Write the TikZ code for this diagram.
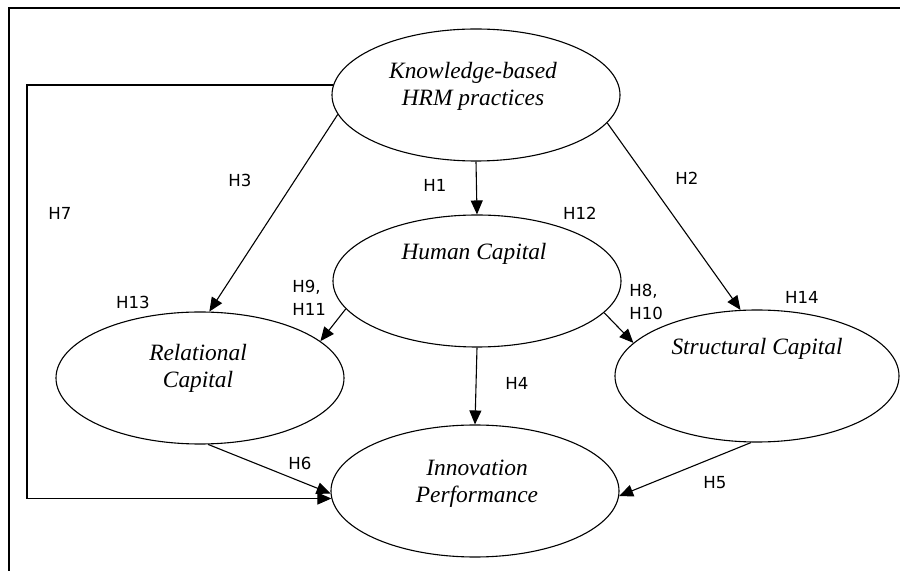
\documentclass[tikz,border=0pt]{standalone}
\usepackage{fontspec}
\setmainfont{Liberation Serif}
\newfontfamily\hfont{DejaVu Sans}
\usetikzlibrary{shapes.geometric,arrows.meta,calc}
\begin{document}
\begin{tikzpicture}[x=0.5pt,y=-0.5pt,
  ell/.style={draw,ellipse,line width=0.55pt,inner sep=0pt,minimum width=144pt,minimum height=66pt},
  etext/.style={font=\fontsize{11.7}{13.5}\selectfont\itshape,align=center,inner sep=0pt},
  hlab/.style={font=\hfont\fontsize{8.3}{11.5}\selectfont,inner sep=0pt},
  arr/.style={line width=0.55pt,-{Triangle[length=7pt,width=6pt]}}]
\useasboundingbox (0,0) rectangle (900,571);
% frame
\draw[line width=1pt] (9,571) -- (9,8) -- (900,8);
% ellipses
\node[ell] (kb) at (476,95) {};
\node[ell] (hc) at (477,281) {};
\node[ell] (rc) at (200,378) {};
\node[ell,minimum width=142pt] (sc) at (757,376) {};
\node[ell] (ip) at (475,491) {};
% texts
\node[etext] (kbt) at (473,86) {Knowledge-based\\HRM practices};
\node[etext] (hct) at (474,254) {Human Capital};
\node[etext] (rct) at (198,368) {Relational\\Capital};
\node[etext] (sct) at (757,349) {Structural Capital};
\node[etext] (ipt) at (477,484) {Innovation\\Performance};
% connectors
\draw[arr] (kb.south) -- (hc.north);
\draw[arr] (kb.188) -- (rc.82);
\draw[arr] (kb.348) -- (sc.104);
\draw[arr] (hc.192) -- (rc.17);
\draw[arr] (hc.346) -- (sc.165);
\draw[arr] (hc.south) -- (ip.north);
\draw[arr] (rc.277) -- (ip.181);
\draw[arr] (sc.265) -- (ip.358);
\coordinate (h7a) at (27,300);
\draw[arr] (kb.176) -| (h7a) |- (ip.183);
% labels
\node[hlab] (lh3) at (240,180) {H3};
\node[hlab] (lh7) at (60,213) {H7};
\node[hlab] (lh1) at (435,185) {H1};
\node[hlab] (lh12) at (580,213) {H12};
\node[hlab] (lh2) at (687,178) {H2};
\node[hlab,align=left,anchor=west] (lh9) at (292,298) {H9,\\H11};
\node[hlab,align=left,anchor=west] (lh8) at (629,302) {H8,\\H10};
\node[hlab] (lh13) at (133,302) {H13};
\node[hlab] (lh14) at (802,297) {H14};
\node[hlab] (lh4) at (517,383) {H4};
\node[hlab] (lh6) at (300,463) {H6};
\node[hlab] (lh5) at (715,483) {H5};
\end{tikzpicture}
\end{document}
